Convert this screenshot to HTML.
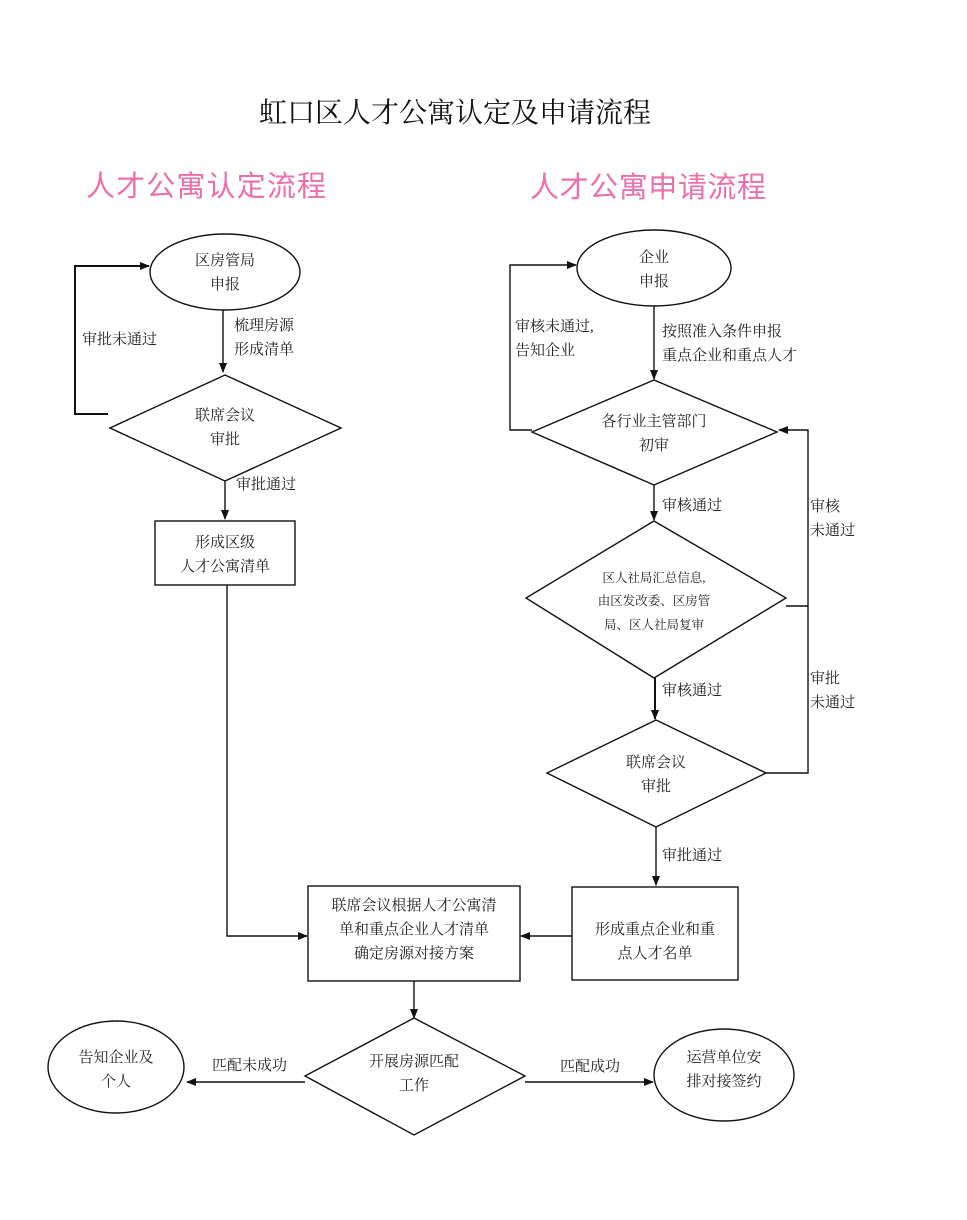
<!DOCTYPE html>
<html><head><meta charset="utf-8"><style>
html,body{margin:0;padding:0;background:#fff;}
svg{display:block;}
text{font-family:"Liberation Serif","Noto Serif CJK SC",serif;fill:#222;}
.b{font-size:15px;}
.pk{font-family:"Liberation Sans","Noto Sans CJK SC",sans-serif;fill:#ec6fab;font-size:29px;}
</style></head><body>
<svg width="967" height="1220" viewBox="0 0 967 1220" xmlns="http://www.w3.org/2000/svg">
<defs><marker id="a" markerWidth="10" markerHeight="10" refX="9" refY="5" orient="auto" markerUnits="userSpaceOnUse"><path d="M0,1 L10,5 L0,9 Z" fill="#111"/></marker></defs>
<g stroke="#111" stroke-width="1.4" fill="none">
<!-- left -->
<ellipse cx="225" cy="272" rx="75" ry="38"/>
<line x1="223" y1="310" x2="223" y2="372" marker-end="url(#a)"/>
<polygon points="225,375 341,428 225,481 110,428"/>
<polyline points="108,414 75,414 75,266 149,266" marker-end="url(#a)" stroke-width="2"/>
<line x1="225" y1="481" x2="225" y2="519" marker-end="url(#a)"/>
<rect x="155" y="521" width="140" height="64"/>
<polyline points="227,585 227,936 307,936" marker-end="url(#a)"/>
<!-- center -->
<rect x="308" y="886" width="212" height="95"/>
<line x1="414" y1="981" x2="414" y2="1018" marker-end="url(#a)"/>
<polygon points="414,1018 525,1076 414,1135 305,1076"/>
<line x1="305" y1="1082" x2="187" y2="1082" marker-end="url(#a)"/>
<ellipse cx="116" cy="1067" rx="68" ry="46"/>
<line x1="525" y1="1082" x2="653" y2="1082" marker-end="url(#a)"/>
<ellipse cx="724" cy="1075" rx="70" ry="46"/>
<!-- right -->
<ellipse cx="654" cy="268" rx="77" ry="38"/>
<line x1="654" y1="306" x2="654" y2="379" marker-end="url(#a)"/>
<polygon points="654,380 777,432 654,485 532,432"/>
<polyline points="532,430 510,430 510,265 576,265" marker-end="url(#a)"/>
<line x1="654" y1="485" x2="654" y2="520" marker-end="url(#a)"/>
<polygon points="654,521 786,598 654,678 526,598"/>
<line x1="655" y1="678" x2="655" y2="719" marker-end="url(#a)" stroke-width="2"/>
<polygon points="656,720 766,773 656,827 547,773"/>
<line x1="786" y1="606" x2="808" y2="606"/>
<polyline points="766,773 808,773 808,430 779,430" marker-end="url(#a)"/>
<line x1="656" y1="827" x2="656" y2="885" marker-end="url(#a)"/>
<rect x="572" y="887" width="166" height="93"/>
<line x1="572" y1="936" x2="521" y2="936" marker-end="url(#a)"/>
</g>
<text x="455" y="122" text-anchor="middle" style="font-size:28px;fill:#111">虹口区人才公寓认定及申请流程</text>
<text x="86" y="196" class="pk" textLength="240">人才公寓认定流程</text>
<text x="530" y="197" class="pk" textLength="236">人才公寓申请流程</text>
<g class="b">
<text x="225" y="265" text-anchor="middle" class="b">区房管局</text>
<text x="225" y="289" text-anchor="middle" class="b">申报</text>
<text x="234" y="330" class="b">梳理房源</text>
<text x="234" y="354" class="b">形成清单</text>
<text x="82" y="344" class="b">审批未通过</text>
<text x="225" y="420" text-anchor="middle" class="b">联席会议</text>
<text x="225" y="444" text-anchor="middle" class="b">审批</text>
<text x="236" y="489" class="b">审批通过</text>
<text x="225" y="547" text-anchor="middle" class="b">形成区级</text>
<text x="225" y="571" text-anchor="middle" class="b">人才公寓清单</text>
<text x="414" y="910" text-anchor="middle" class="b">联席会议根据人才公寓清</text>
<text x="414" y="934" text-anchor="middle" class="b">单和重点企业人才清单</text>
<text x="414" y="958" text-anchor="middle" class="b">确定房源对接方案</text>
<text x="655" y="934" text-anchor="middle" class="b">形成重点企业和重</text>
<text x="655" y="958" text-anchor="middle" class="b">点人才名单</text>
<text x="414" y="1066" text-anchor="middle" class="b">开展房源匹配</text>
<text x="414" y="1090" text-anchor="middle" class="b">工作</text>
<text x="212" y="1070" class="b">匹配未成功</text>
<text x="560" y="1071" class="b">匹配成功</text>
<text x="116" y="1062" text-anchor="middle" class="b">告知企业及</text>
<text x="116" y="1086" text-anchor="middle" class="b">个人</text>
<text x="724" y="1062" text-anchor="middle" class="b">运营单位安</text>
<text x="724" y="1086" text-anchor="middle" class="b">排对接签约</text>
<text x="654" y="262" text-anchor="middle" class="b">企业</text>
<text x="654" y="286" text-anchor="middle" class="b">申报</text>
<text x="662" y="336" class="b">按照准入条件申报</text>
<text x="662" y="360" class="b">重点企业和重点人才</text>
<text x="515" y="331" class="b">审核未通过,</text>
<text x="515" y="355" class="b">告知企业</text>
<text x="654" y="426" text-anchor="middle" class="b">各行业主管部门</text>
<text x="654" y="450" text-anchor="middle" class="b">初审</text>
<text x="662" y="510" class="b">审核通过</text>
<text x="654" y="582" text-anchor="middle" style="font-size:12.5px">区人社局汇总信息,</text>
<text x="654" y="605" text-anchor="middle" style="font-size:12.5px">由区发改委、区房管</text>
<text x="654" y="629" text-anchor="middle" style="font-size:12.5px">局、区人社局复审</text>
<text x="662" y="695" class="b">审核通过</text>
<text x="656" y="767" text-anchor="middle" class="b">联席会议</text>
<text x="656" y="791" text-anchor="middle" class="b">审批</text>
<text x="662" y="860" class="b">审批通过</text>
<text x="810" y="511" class="b">审核</text>
<text x="810" y="535" class="b">未通过</text>
<text x="810" y="683" class="b">审批</text>
<text x="810" y="707" class="b">未通过</text>
</g>
</svg>
</body></html>
